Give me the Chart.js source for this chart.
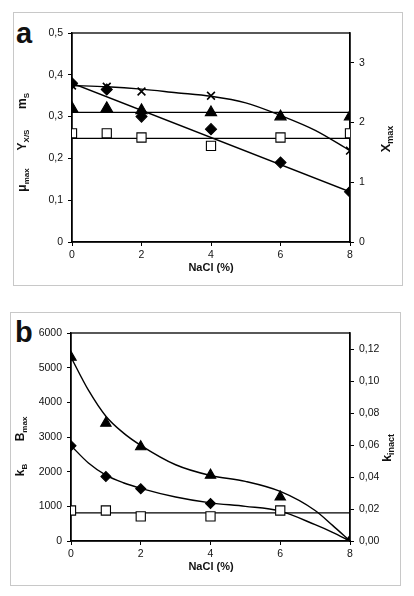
<!DOCTYPE html>
<html>
<head>
<meta charset="utf-8">
<script src="https://cdn.jsdelivr.net/npm/chart.js@4/dist/chart.umd.min.js"></script>
<style>
body { margin: 0; background: #fff; width: 414px; height: 596px; position: relative; overflow: hidden; font-family: "Liberation Sans", Arial, sans-serif; }
.frame { position: absolute; border: 1px solid #c8c8c8; }
.wrap { position: absolute; left: 0; width: 414px; height: 298px; }
.lbl { position: absolute; font-weight: bold; font-size: 29px; line-height: 1; color: #111; }
</style>
</head>
<body>
<div class="frame" style="left:13px;top:12px;width:388px;height:272px"></div>
<div class="frame" style="left:10px;top:312px;width:389px;height:272px"></div>
<div class="lbl" style="left:16px;top:19px">a</div>
<div class="lbl" style="left:15px;top:318px">b</div>
<div class="wrap" style="top:0"><canvas id="chartA" width="414" height="298"></canvas></div>
<div class="wrap" style="top:298px"><canvas id="chartB" width="414" height="298"></canvas></div>
<script>
// --- datos panel a ---
const naclA = [0, 1, 2, 4, 6, 8];
const diamondsA = [0.38, 0.365, 0.30, 0.27, 0.19, 0.12];
const trianglesA = [0.32, 0.32, 0.315, 0.31, 0.30, 0.30];
const squaresA = [0.26, 0.26, 0.25, 0.23, 0.25, 0.26];
const naclCrossA = [0, 1, 2, 4, 8];
const crossesA = [2.62, 2.6, 2.52, 2.45, 1.53];
// rectas / curvas de ajuste
const lineEndsA = [0, 8];
const diamondFitA = [0.38, 0.12];
const triangleFitA = [0.31, 0.31];
const squareFitA = [0.248, 0.248];
const crossFitX = [0, 1, 2, 3, 4, 5, 6, 7, 8];
const crossFitA = [2.62, 2.6, 2.56, 2.5, 2.44, 2.33, 2.12, 1.87, 1.53];

// --- datos panel b ---
const naclB = [0, 1, 2, 4, 6, 8];
const trianglesB = [5300, 3400, 2720, 1900, 1270, 0];
const naclDiamondB = [0, 1, 2, 4, 8];
const diamondsB = [2750, 1860, 1510, 1080, 0];
const naclSquareB = [0, 1, 2, 4, 6];
const squaresB = [880, 880, 710, 710, 880];
const fitXB = [0, 0.5, 1, 1.5, 2, 3, 4, 5, 6, 7, 7.5, 8];
const triangleFitB = [5300, 4350, 3600, 3120, 2760, 2200, 1890, 1720, 1430, 880, 450, 0];
const diamondFitB = [2750, 2250, 1900, 1680, 1520, 1270, 1100, 1000, 860, 470, 250, 0];
const lineEndsB = [0, 8];
const squareFitB = [810, 810];

const FONT = '"Liberation Sans", Arial, sans-serif';
const pts = (xs, ys) => xs.map((x, i) => ({ x, y: ys[i] }));

function markers(label, xs, ys, style, r, axis, fill) {
    return {
        label, data: pts(xs, ys), yAxisID: axis, showLine: false, order: 1,
        pointStyle: style, pointRadius: r, pointHoverRadius: r,
        pointBackgroundColor: fill || '#000', pointBorderColor: '#000',
        pointBorderWidth: style === 'crossRot' ? 1.6 : 1.1
    };
}
function fitLine(xs, ys, axis, curved) {
    return {
        data: pts(xs, ys), yAxisID: axis, order: 2, showLine: true,
        borderColor: '#000', borderWidth: 1.4, pointRadius: 0,
        cubicInterpolationMode: curved ? 'monotone' : 'default', tension: 0, fill: false
    };
}

// titulo rotado con subíndice
function drawRotTitle(ctx, x, yc, parts, big, small) {
    ctx.save();
    let total = 0;
    parts.forEach(p => {
        ctx.font = 'bold ' + (p.sub ? small : big) + 'px ' + FONT;
        p.w = ctx.measureText(p.t).width;
        total += p.w;
    });
    ctx.translate(x, yc);
    ctx.rotate(-Math.PI / 2);
    ctx.fillStyle = '#111';
    ctx.textBaseline = 'alphabetic';
    let pos = -total / 2;
    parts.forEach(p => {
        ctx.font = 'bold ' + (p.sub ? small : big) + 'px ' + FONT;
        ctx.fillText(p.t, pos, p.sub ? 8 : 5);
        pos += p.w;
    });
    ctx.restore();
}

function boxPlugin(titles) {
    return {
        id: 'boxTitles',
        beforeDatasetsDraw(chart) {
            const { ctx, chartArea: a } = chart;
            ctx.save();
            ctx.strokeStyle = '#000';
            ctx.lineWidth = 1.3;
            ctx.strokeRect(a.left, a.top, a.right - a.left, a.bottom - a.top);
            ctx.restore();
        },
        afterDraw(chart) {
            const ctx = chart.ctx;
            titles.forEach(t => drawRotTitle(ctx, t.x, t.y, t.parts, t.big || 12, t.small || 8));
            ctx.save();
            ctx.font = 'bold 11px ' + FONT;
            ctx.fillStyle = '#111';
            ctx.textAlign = 'center';
            ctx.textBaseline = 'middle';
            ctx.fillText('NaCl (%)', 211, chart.chartArea.bottom + 26);
            ctx.restore();
        }
    };
}

const tickFont = { family: FONT, size: 10.5 };
const axisGrid = { drawOnChartArea: false, drawTicks: true, tickLength: 4, color: '#000' };
const axisBorder = { display: true, color: '#000', width: 1.4 };

function baseScales(leftW, leftOpts, rightOpts) {
    return {
        x: {
            type: 'linear', min: 0, max: 8,
            ticks: { stepSize: 2, font: tickFont, color: '#111', padding: 3, callback: v => String(v) },
            grid: axisGrid, border: axisBorder,
            afterFit: s => { s.height = 20; }
        },
        yL: Object.assign({
            type: 'linear', position: 'left', min: 0,
            grid: axisGrid, border: axisBorder,
            afterFit: s => { s.width = leftW; }
        }, leftOpts),
        yR: Object.assign({
            type: 'linear', position: 'right', min: 0,
            grid: axisGrid, border: axisBorder,
            afterFit: s => { s.width = 34; }
        }, rightOpts)
    };
}

const commonOpts = {
    responsive: false, animation: false,
    plugins: { legend: { display: false }, tooltip: { enabled: false } }
};

// --- panel a ---
new Chart(document.getElementById('chartA'), {
    type: 'scatter',
    data: {
        datasets: [
            markers('diamonds', naclA, diamondsA, 'rectRot', 5.5, 'yL'),
            markers('triangles', naclA, trianglesA, 'triangle', 6.5, 'yL'),
            markers('squares', naclA, squaresA, 'rect', 6.5, 'yL', '#fff'),
            markers('crosses', naclCrossA, crossesA, 'crossRot', 5.5, 'yR'),
            fitLine(lineEndsA, diamondFitA, 'yL', false),
            fitLine(lineEndsA, triangleFitA, 'yL', false),
            fitLine(lineEndsA, squareFitA, 'yL', false),
            fitLine(crossFitX, crossFitA, 'yR', true)
        ]
    },
    options: Object.assign({}, commonOpts, {
        layout: { padding: { left: 38, right: 30, top: 33, bottom: 36 } },
        scales: baseScales(34,
            { max: 0.5, ticks: { stepSize: 0.1, font: tickFont, color: '#111', padding: 5,
                callback: v => v === 0 ? '0' : v.toFixed(1).replace('.', ',') } },
            { max: 3.5, ticks: { stepSize: 1, font: tickFont, color: '#111', padding: 5,
                callback: v => String(v) },
              afterBuildTicks: s => { s.ticks = s.ticks.filter(t => Number.isInteger(t.value)); } }
        )
    }),
    plugins: [boxPlugin([
        { x: 21, y: 101, parts: [{ t: 'm' }, { t: 'S', sub: true }] },
        { x: 21, y: 140, parts: [{ t: 'Y' }, { t: 'X/S', sub: true }] },
        { x: 21, y: 180, parts: [{ t: 'μ' }, { t: 'max', sub: true }] },
        { x: 385, y: 139, parts: [{ t: 'X' }, { t: 'max', sub: true }], big: 13, small: 9 }
    ])]
});

// --- panel b ---
new Chart(document.getElementById('chartB'), {
    type: 'scatter',
    data: {
        datasets: [
            markers('triangles', naclB, trianglesB, 'triangle', 6, 'yL'),
            markers('diamonds', naclDiamondB, diamondsB, 'rectRot', 5, 'yL'),
            markers('squares', naclSquareB, squaresB, 'rect', 6.5, 'yL', '#fff'),
            fitLine(fitXB, triangleFitB, 'yL', true),
            fitLine(fitXB, diamondFitB, 'yL', true),
            fitLine(lineEndsB, squareFitB, 'yL', false)
        ]
    },
    options: Object.assign({}, commonOpts, {
        layout: { padding: { left: 27, right: 30, top: 35, bottom: 35 } },
        scales: baseScales(44,
            { max: 6000, ticks: { stepSize: 1000, font: tickFont, color: '#111', padding: 5,
                callback: v => String(v) } },
            { max: 0.13, ticks: { stepSize: 0.02, font: tickFont, color: '#111', padding: 5,
                callback: v => v.toFixed(2).replace('.', ',') },
              afterBuildTicks: s => {
                  s.ticks = s.ticks.filter(t => Math.abs(Math.round(t.value / 0.02) * 0.02 - t.value) < 1e-9);
              } }
        )
    }),
    plugins: [boxPlugin([
        { x: 19, y: 131, parts: [{ t: 'B' }, { t: 'max', sub: true }] },
        { x: 19, y: 172, parts: [{ t: 'k' }, { t: 'B', sub: true }] },
        { x: 386, y: 150, parts: [{ t: 'k' }, { t: 'inact', sub: true }], big: 13, small: 9 }
    ])]
});
</script>
</body>
</html>
